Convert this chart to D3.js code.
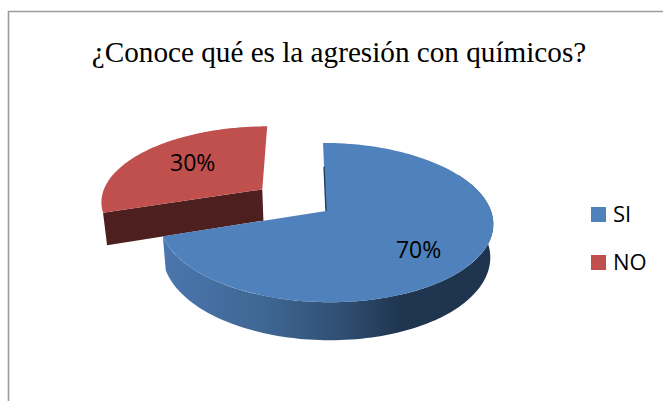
<!DOCTYPE html>
<html>
<head>
<meta charset="utf-8">
<script src="https://cdn.jsdelivr.net/npm/d3@7"></script>
<style>
body { margin: 0; background: #fff; }
text { fill: #000; }
</style>
</head>
<body>
<div id="chart"></div>
<script>
// Chart data
const categories = ["SI", "NO"];
const percents = [70, 30];
const chartTitle = "¿Conoce qué es la agresión con químicos?";

const width = 663, height = 401;
const colors = ["#4f81bd", "#c0504d"];

const svg = d3.select("#chart").append("svg")
    .attr("width", width)
    .attr("height", height)
    .style("display", "block");

// Frame, runs off the right and bottom of the picture
svg.append("path")
    .attr("d", "M8.5," + height + "V11.5H" + width)
    .attr("fill", "none")
    .attr("stroke", "#9c9c9c")
    .attr("stroke-width", 1.6);

svg.append("text")
    .attr("x", 339)
    .attr("y", 62)
    .attr("text-anchor", "middle")
    .style("font-family", "'Liberation Serif', serif")
    .style("font-size", "29.2px")
    .text(chartTitle);

// Side shading of the big slice
const grad = svg.append("defs").append("linearGradient")
    .attr("id", "sideBlue")
    .attr("gradientUnits", "userSpaceOnUse")
    .attr("x1", 165).attr("x2", 493).attr("y1", 0).attr("y2", 0);
[[0, "#4a76ad"], [0.3, "#3f6794"], [0.55, "#2f4d70"], [0.72, "#1f3550"], [1, "#1e344e"]]
    .forEach(s => grad.append("stop").attr("offset", s[0]).attr("stop-color", s[1]));

// Perspective projection of the tilted disc
const cx = 326, cy = 211;   // where the pie centre lands
const rx = 165, ry = 78;    // disc radius on screen
const skew = -3.4;          // camera is a bit off to the side
const k = 0.145;            // how much the far side shrinks
const depth = 32.5;         // thickness of the pie
const taper = 0.982;        // bottom rim is a little smaller

function project(a, r, low, ex, ey) {
    const X = r * Math.sin(a) + ex;
    const Y = r * Math.cos(a) + ey;
    const w = 1 + k * Y;
    const s = low ? taper : 1;
    return [
        cx + s * (rx * X + skew * Y) / w,
        cy - ry * Y / w + (low ? depth / w : 0)
    ];
}

const pie = d3.pie().sort(null).value(d => d);
const slices = pie(percents);
const line = d3.line();

function rim(a0, a1, low, ex, ey) {
    return d3.range(0, 121).map(i => project(a0 + (a1 - a0) * i / 120, 1, low, ex, ey));
}

const si = slices[0], no = slices[1];

// The small slice is pulled out along its middle angle
const explode = 0.49;
const mid = (no.startAngle + no.endAngle) / 2;
const ex = explode * Math.sin(mid), ey = explode * Math.cos(mid);

// NO: cut wall then top
const noWall = [
    project(0, 0, false, ex, ey),
    project(no.startAngle, 1, false, ex, ey),
    project(no.startAngle, 1, true, ex, ey),
    project(0, 0, true, ex, ey)
];
svg.append("path")
    .attr("d", line(noWall) + "Z")
    .attr("fill", "#4d1f1e");
svg.append("path")
    .attr("d", line([project(0, 0, false, ex, ey)].concat(rim(no.startAngle, no.endAngle, false, ex, ey))) + "Z")
    .attr("fill", colors[1]);

// SI: outer side then top
svg.append("path")
    .attr("d", line(rim(si.startAngle + Math.PI / 3, si.endAngle, false, 0, 0)
        .concat(rim(si.endAngle, si.startAngle + Math.PI / 3, true, 0, 0))) + "Z")
    .attr("fill", "url(#sideBlue)");
svg.append("path")
    .attr("d", line([project(0, 0, false, 0, 0)].concat(rim(si.startAngle, si.endAngle, false, 0, 0))) + "Z")
    .attr("fill", colors[0]);

// Sliver of the cut wall seen along the vertical edge
svg.append("path")
    .attr("d", line([project(0, 0, false, 0, 0), project(0, 0.62, false, 0, 0)]))
    .attr("fill", "none")
    .attr("stroke", "#24405f")
    .attr("stroke-width", 1.4);

// Data labels
const labelFont = "'Open Sans', sans-serif";
const labelPos = [project(2.3, 0.69, false, 0, 0), project(5.42, 0.63, false, ex, ey)];
svg.selectAll(".pct")
    .data(percents)
    .enter().append("text")
    .attr("class", "pct")
    .attr("x", (d, i) => labelPos[i][0])
    .attr("y", (d, i) => labelPos[i][1])
    .attr("text-anchor", "middle")
    .attr("dominant-baseline", "central")
    .style("font-family", labelFont)
    .style("font-size", "23px")
    .text(d => d + "%");

// Legend
const legendY = d3.scalePoint().domain(categories).range([214.5, 262.5]);
svg.selectAll(".swatch")
    .data(categories)
    .enter().append("rect")
    .attr("class", "swatch")
    .attr("x", 591)
    .attr("y", d => legendY(d) - 7.5)
    .attr("width", 15)
    .attr("height", 15)
    .attr("fill", (d, i) => colors[i]);
svg.selectAll(".leg")
    .data(categories)
    .enter().append("text")
    .attr("class", "leg")
    .attr("x", 613)
    .attr("y", d => legendY(d) + 7.5)
    .style("font-family", labelFont)
    .style("font-size", "22px")
    .text(d => d);
</script>
</body>
</html>
